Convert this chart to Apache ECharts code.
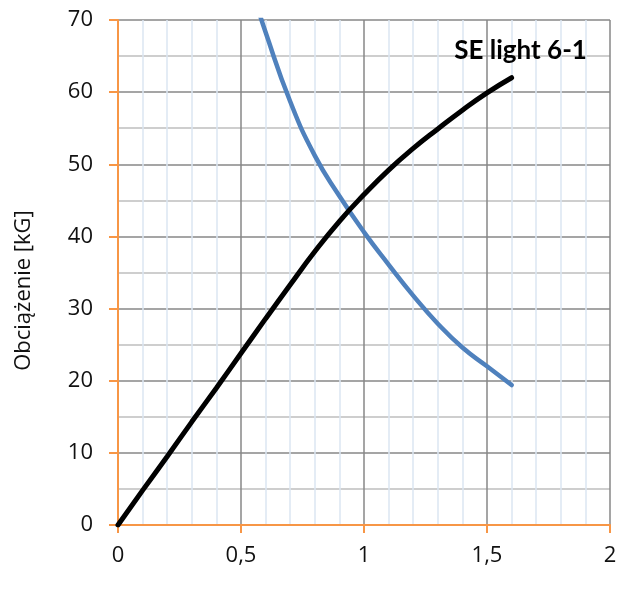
<!DOCTYPE html>
<html>
<head>
<meta charset="utf-8">
<script src="https://cdn.jsdelivr.net/npm/echarts@6/dist/echarts.min.js"></script>
<style>html,body{margin:0;padding:0;background:#fff}#c{width:621px;height:615px}</style>
</head>
<body>
<div id="c"></div>
<script>
// Data
var blackX = [0, 0.1, 0.2, 0.3, 0.4, 0.5, 0.6, 0.7, 0.8, 0.9, 1.0, 1.1, 1.2, 1.3, 1.4, 1.5, 1.6];
var blackY = [0, 4.8, 9.5, 14.3, 19.0, 23.8, 28.6, 33.3, 37.9, 42.1, 45.8, 49.2, 52.2, 54.9, 57.5, 59.9, 62.0];
var blueX = [0.55, 0.6, 0.7, 0.8, 0.9, 1.0, 1.1, 1.2, 1.3, 1.4, 1.5, 1.6];
var blueY = [73.6, 68.3, 58.7, 51.2, 45.6, 40.6, 36.1, 31.8, 27.9, 24.6, 22.0, 19.4];
var seriesLabel = 'SE light 6-1';
var yAxisName = 'Obciążenie [kG]';

function pairs(xs, ys) { return xs.map(function (x, i) { return [x, ys[i]]; }); }
var blackData = pairs(blackX, blackY);
var lastPt = blackData[blackData.length - 1];

var chart = echarts.init(document.getElementById('c'), null, {renderer: 'canvas'});
chart.setOption({
  animation: false,
  backgroundColor: '#fff',
  grid: {left: 118, right: 11, top: 20, bottom: 90, containLabel: false},
  xAxis: {
    type: 'value', min: 0, max: 2, interval: 0.5,
    axisLine: {show: true, onZero: false, lineStyle: {color: '#F79646', width: 2}},
    axisTick: {show: true, length: 8, lineStyle: {color: '#F79646', width: 2}},
    axisLabel: {
      margin: 20, fontFamily: 'Open Sans', fontSize: 22, color: '#111',
      formatter: function (v) { return String(v).replace('.', ','); }
    },
    splitLine: {show: true, lineStyle: {color: '#878787', width: 1.5}},
    minorTick: {show: false, splitNumber: 5},
    minorSplitLine: {show: true, lineStyle: {color: '#DCE6F2', width: 1.5}}
  },
  yAxis: {
    type: 'value', min: 0, max: 70, interval: 10,
    name: yAxisName, nameLocation: 'middle', nameGap: 83, nameRotate: 90,
    nameTextStyle: {fontFamily: 'Open Sans', fontSize: 22, color: '#111', padding: [0, 36, 0, 0]},
    axisLine: {show: true, onZero: false, lineStyle: {color: '#F79646', width: 2}},
    axisTick: {show: true, length: 9, lineStyle: {color: '#F79646', width: 2}},
    axisLabel: {margin: 25, fontFamily: 'Open Sans', fontSize: 22, color: '#111'},
    splitLine: {show: true, lineStyle: {color: '#878787', width: 1.5}},
    minorTick: {show: false, splitNumber: 2},
    minorSplitLine: {show: true, lineStyle: {color: '#BFBFBF', width: 1.5}}
  },
  series: [
    {
      type: 'line', data: pairs(blueX, blueY), smooth: 0.5, showSymbol: false, clip: true,
      lineStyle: {color: '#4F81BD', width: 4.5, cap: 'round'}, z: 2
    },
    {
      type: 'line', data: blackData, smooth: 0.5, showSymbol: false, clip: true,
      lineStyle: {color: '#000', width: 5, cap: 'round'}, z: 3,
      markPoint: {
        symbol: 'circle', symbolSize: 1, itemStyle: {color: 'rgba(0,0,0,0)'},
        silent: true,
        data: [{
          coord: lastPt,
          label: {
            show: true, position: 'top', distance: 0, offset: [9, -14],
            formatter: seriesLabel,
            fontFamily: 'Lato', fontWeight: 'bold', fontSize: 26, color: '#000'
          }
        }]
      }
    }
  ]
});
</script>
</body>
</html>
